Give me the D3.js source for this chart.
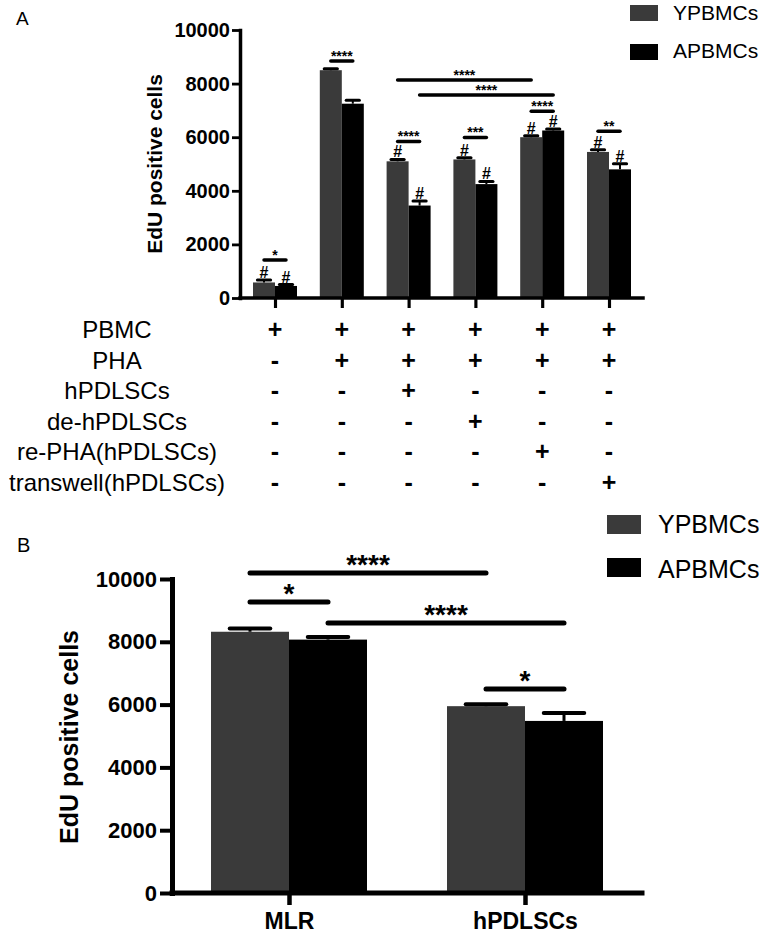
<!DOCTYPE html>
<html>
<head>
<meta charset="utf-8">
<script src="https://cdn.jsdelivr.net/npm/d3@7"></script>
<style>
  body { margin: 0; background: #fff; }
  text { font-family: "Liberation Sans", Arial, Helvetica, sans-serif; }
</style>
</head>
<body>
<script>
// ---- data, panel A
const seriesNames = ["YPBMCs", "APBMCs"];
const conditionsA = ["c1", "c2", "c3", "c4", "c5", "c6"];
const youngA    = [580, 8500, 5100, 5170, 6000, 5450];
const youngErrA = [90, 50, 70, 60, 50, 80];
const agedA     = [450, 7250, 3450, 4250, 6250, 4800];
const agedErrA  = [50, 130, 170, 100, 60, 210];
const hashA     = [true, false, true, true, true, true];
const yTicks    = [0, 2000, 4000, 6000, 8000, 10000];

const tableRows  = ["PBMC", "PHA", "hPDLSCs", "de-hPDLSCs", "re-PHA(hPDLSCs)", "transwell(hPDLSCs)"];
const tableMarks = ["++++++", "-+++++", "--+---", "---+--", "----+-", "-----+"];

// significance: [cond, series, cond, series, level, label]
const sigA = [
  [0, 0, 0, 1, 1420, "*"],
  [1, 0, 1, 1, 8840, "****"],
  [2, 0, 4, 0, 8130, "****"],
  [2, 1, 4, 1, 7570, "****"],
  [2, 0, 2, 1, 5840, "****"],
  [3, 0, 3, 1, 5990, "***"],
  [4, 0, 4, 1, 6970, "****"],
  [5, 0, 5, 1, 6220, "**"]
];

// ---- data, panel B
const groupsB    = ["MLR", "hPDLSCs"];
const youngB     = [8320, 5950];
const youngErrB  = [100, 60];
const agedB      = [8070, 5480];
const agedErrB   = [80, 250];
const sigB = [
  [0, 0, 1, 0, 10190, "****"],
  [0, 0, 0, 1, 9270, "*"],
  [0, 1, 1, 1, 8600, "****"],
  [1, 0, 1, 1, 6500, "*"]
];

const COLORS = {YPBMCs: "#3a3a3a", APBMCs: "#000"};

const svg = d3.select("body").append("svg")
    .attr("width", 766)
    .attr("height", 933);

function drawPanel(cfg) {
  const g = svg.append("g");
  const y = d3.scaleLinear().domain([0, 10000]).range([cfg.bottom, cfg.top]);
  const x = d3.scalePoint().domain(cfg.cats).range(cfg.xRange);
  const sub = d3.scaleBand().domain(seriesNames).range([-cfg.barW, cfg.barW]);
  const bw = sub.bandwidth();
  const cx = (ci, si) => x(cfg.cats[ci]) + sub(seriesNames[si]) + bw / 2;

  const data = [];
  cfg.cats.forEach((c, i) => {
    seriesNames.forEach((s, j) => {
      data.push({ci: i, si: j, s: s, v: cfg.vals[j][i], e: cfg.errs[j][i],
                 hash: cfg.hash ? cfg.hash[i] : false});
    });
  });

  // bars
  g.selectAll("rect.bar")
    .data(data)
    .enter()
    .append("rect")
      .attr("class", "bar")
      .attr("x", (d) => cx(d.ci, d.si) - bw / 2)
      .attr("y", (d) => y(d.v))
      .attr("width", bw)
      .attr("height", (d) => y(0) - y(d.v))
      .attr("fill", (d) => COLORS[d.s]);

  // error bars (upper only)
  const capW = bw * cfg.capRatio;
  g.selectAll("line.err")
    .data(data)
    .enter()
    .append("line")
      .attr("x1", (d) => cx(d.ci, d.si))
      .attr("x2", (d) => cx(d.ci, d.si))
      .attr("y1", (d) => y(d.v))
      .attr("y2", (d) => y(d.v + d.e))
      .attr("stroke", "#000")
      .attr("stroke-width", cfg.errW);
  g.selectAll("line.cap")
    .data(data)
    .enter()
    .append("line")
      .attr("x1", (d) => cx(d.ci, d.si) - capW / 2)
      .attr("x2", (d) => cx(d.ci, d.si) + capW / 2)
      .attr("y1", (d) => y(d.v + d.e))
      .attr("y2", (d) => y(d.v + d.e))
      .attr("stroke", "#000")
      .attr("stroke-width", cfg.capW)
      .attr("stroke-linecap", "round");

  // # marks
  g.selectAll("text.hash")
    .data(data.filter((d) => d.hash))
    .enter()
    .append("text")
      .attr("x", (d) => cx(d.ci, d.si))
      .attr("y", (d) => y(d.v + d.e) - 2)
      .attr("text-anchor", "middle")
      .attr("font-size", cfg.hashSize)
      .attr("font-weight", "bold")
      .text("#");

  // y axis
  const yAxis = g.append("g")
      .attr("transform", "translate(" + cfg.axisX + ",0)")
      .call(d3.axisLeft(y).tickValues(yTicks).tickSize(cfg.tick)
              .tickSizeOuter(0).tickPadding(cfg.tickPad)
              .tickFormat(d3.format("d")));
  yAxis.select(".domain").attr("stroke-width", cfg.lineW).attr("stroke-linecap", "square");
  yAxis.selectAll(".tick line").attr("stroke-width", cfg.lineW * 0.8);
  yAxis.selectAll(".tick text")
      .attr("font-size", cfg.tickFont)
      .attr("font-weight", "bold")
      .attr("fill", "#000")
      .style("font-family", "'Liberation Sans', Arial, sans-serif");

  // x axis
  g.append("line")
      .attr("x1", cfg.axisX)
      .attr("x2", cfg.xEnd)
      .attr("y1", y(0))
      .attr("y2", y(0))
      .attr("stroke", "#000")
      .attr("stroke-width", cfg.lineW)
      .attr("stroke-linecap", "square");
  const xAxis = g.append("g")
      .attr("transform", "translate(0," + y(0) + ")")
      .call(d3.axisBottom(x).tickSize(cfg.xTick).tickPadding(cfg.xPad)
              .tickFormat(cfg.xLabels ? null : () => ""));
  xAxis.select(".domain").remove();
  xAxis.selectAll(".tick line").attr("stroke-width", cfg.lineW * 0.9);
  xAxis.selectAll(".tick text")
      .attr("font-size", cfg.xFont)
      .attr("font-weight", "bold")
      .attr("fill", "#000")
      .style("font-family", "'Liberation Sans', Arial, sans-serif");

  // significance bars
  const sg = g.selectAll("g.sig")
    .data(cfg.sig)
    .enter()
    .append("g");
  sg.append("line")
      .attr("x1", (d) => cx(d[0], d[1]))
      .attr("x2", (d) => cx(d[2], d[3]))
      .attr("y1", (d) => y(d[4]))
      .attr("y2", (d) => y(d[4]))
      .attr("stroke", "#000")
      .attr("stroke-width", cfg.sigW)
      .attr("stroke-linecap", "round");
  sg.append("text")
      .attr("x", (d) => (cx(d[0], d[1]) + cx(d[2], d[3])) / 2)
      .attr("y", (d) => y(d[4]) + cfg.starDy)
      .attr("text-anchor", "middle")
      .attr("font-size", cfg.starSize)
      .attr("font-weight", "bold")
      .text((d) => d[5]);

  // y title
  g.append("text")
      .attr("transform", "translate(" + cfg.titlePos[0] + "," + cfg.titlePos[1] + ") rotate(-90)")
      .attr("text-anchor", "middle")
      .attr("font-size", cfg.titleSize)
      .attr("font-weight", "bold")
      .text("EdU positive cells");

  // legend
  const lg = g.selectAll("g.leg")
    .data(seriesNames)
    .enter()
    .append("g");
  lg.append("rect")
      .attr("x", cfg.leg.x)
      .attr("y", (d, i) => cfg.leg.ys[i])
      .attr("width", cfg.leg.w)
      .attr("height", cfg.leg.h)
      .attr("fill", (d) => COLORS[d]);
  lg.append("text")
      .attr("x", cfg.leg.textX)
      .attr("y", (d, i) => cfg.leg.base[i])
      .attr("font-size", cfg.leg.font)
      .text((d) => d);

  // panel letter
  g.append("text")
      .attr("x", cfg.letterPos[0])
      .attr("y", cfg.letterPos[1])
      .attr("font-size", cfg.letterSize)
      .text(cfg.letter);

  return {x: x, y: y};
}

const A = drawPanel({
  cats: conditionsA, vals: [youngA, agedA], errs: [youngErrA, agedErrA], hash: hashA,
  top: 30, bottom: 298, axisX: 240, xRange: [275, 609], barW: 22, xEnd: 643,
  capRatio: 0.6, errW: 2, capW: 3, hashSize: 16,
  tick: 8, tickPad: 2, tickFont: 20, lineW: 3.5,
  xTick: 10, xPad: 4, xLabels: false, xFont: 20,
  sig: sigA, sigW: 3.5, starSize: 14, starDy: 0,
  titlePos: [162, 164], titleSize: 21,
  leg: {x: 630, w: 28, h: 16, ys: [5, 44], textX: 673, base: [20, 58], font: 21},
  letter: "A", letterPos: [16, 25], letterSize: 19
});

// condition table under panel A
const rowY = d3.scalePoint().domain(tableRows).range([338, 491]);
const tbl = svg.append("g");
tbl.selectAll("text.rowlab")
  .data(tableRows)
  .enter()
  .append("text")
    .attr("x", 117)
    .attr("y", (d) => rowY(d))
    .attr("text-anchor", "middle")
    .attr("font-size", 24)
    .text((d) => d);
tableRows.forEach((r, i) => {
  tbl.selectAll("text.m" + i)
    .data(tableMarks[i].split(""))
    .enter()
    .append("text")
      .attr("x", (d, j) => A.x(conditionsA[j]))
      .attr("y", rowY(r))
      .attr("text-anchor", "middle")
      .attr("font-size", 25)
      .attr("font-weight", "bold")
      .text((d) => d);
});

drawPanel({
  cats: groupsB, vals: [youngB, agedB], errs: [youngErrB, agedErrB], hash: null,
  top: 579, bottom: 893, axisX: 172, xRange: [289, 525], barW: 78, xEnd: 642,
  capRatio: 0.52, errW: 3, capW: 4, hashSize: 20,
  tick: 12, tickPad: 3, tickFont: 22, lineW: 5,
  xTick: 12, xPad: 8, xLabels: true, xFont: 23,
  sig: sigB, sigW: 5, starSize: 28, starDy: 1,
  titlePos: [78, 737], titleSize: 25,
  leg: {x: 607, w: 34, h: 19, ys: [515, 558], textX: 658, base: [533, 578], font: 25},
  letter: "B", letterPos: [17, 552], letterSize: 20
});
</script>
</body>
</html>
